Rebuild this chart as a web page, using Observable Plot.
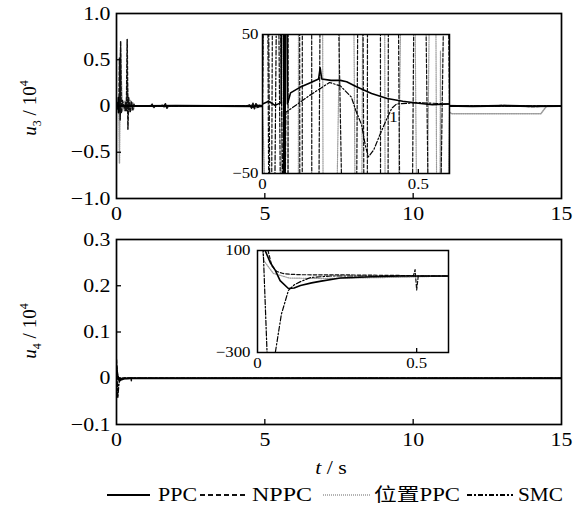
<!DOCTYPE html>
<html>
<head>
<meta charset="utf-8">
<script src="https://cdn.jsdelivr.net/npm/d3@7"></script>
<script src="https://cdn.jsdelivr.net/npm/@observablehq/plot@0.6"></script>
<style>
  body { margin: 0; background: #fff; }
  #chart { position: relative; width: 579px; height: 511px; overflow: hidden; background: #fff; }
  #chart > svg { position: absolute; }
</style>
</head>
<body>
<div id="chart"></div>
<script>
// ---- axis ticks ----
const xTicksMain = [0, 5, 10, 15];
const xTickMarksMain = [5, 10];
const u3Ticks = [-1, -0.5, 0, 0.5, 1];
const u3TickMarks = [-0.5, 0, 0.5];
const u4Ticks = [-0.1, 0, 0.1, 0.2, 0.3];
const u4TickMarks = [0, 0.1, 0.2];
const insetXTicks = [0, 0.5];
const inset3YTicks = [-50, 50];
const inset4YTicks = [-300, 100];

// ---- u3 control input (raw units) ----
const ppc3T = [0, 0.02, 0.04, 0.06, 0.066, 0.07, 0.074, 0.08, 0.09, 0.12, 0.15, 0.18, 0.185, 0.19, 0.22, 0.25, 0.27, 0.3, 0.35, 0.4, 0.45, 0.5, 0.545, 0.6, 1.0, 2.0, 4.6, 4.8, 5.0, 8.0, 10.0, 11.0, 12.0, 13.0, 14.0, 15.0];
const ppc3V = [0, 2, -1, 1, 900, -700, 300, 0, 8, 12, 15, 18, 26, 18, 17, 17, 16, 12.6, 7.5, 4, 2, 0.5, -0.5, 0, 0, 30, -30, 40, 0, 20, 0, 40, -40, 40, -40, 0];

const nppc3T = [0, 0.012, 0.025, 0.038, 0.08, 0.1, 0.125, 0.14, 0.16, 0.2, 0.29, 0.315, 0.335, 0.36, 0.385, 0.41, 0.46, 0.5, 0.55, 0.59, 0.6, 0.8, 1.15, 1.2, 1.25, 1.3, 1.6, 1.65, 1.7, 1.75, 3.5, 4.4, 4.5, 4.55, 4.6, 4.65, 4.7, 4.75, 4.85, 6.0, 9.5, 10.0, 10.5, 11.0, 12.0, 13.0, 14.0, 15.0];
const nppc3V = [0, 300, -300, 400, -600, 5200, -1500, 7000, -800, 600, -500, 400, -500, 7200, -2500, 900, -700, 500, -400, 200, 0, 0, 0, 200, -200, 0, 0, 250, -250, 0, 0, 0, 150, -250, 300, -300, 250, -150, 0, 0, 0, 60, -60, 40, -40, 50, -50, 0];

const pos3T = [0, 0.05, 0.08, 0.1, 0.13, 0.2, 0.28, 0.31, 0.37, 0.4, 0.47, 0.51, 0.55, 0.565, 0.571, 0.58, 0.6, 0.8, 1.5, 1.55, 1.6, 1.7, 4.5, 4.6, 4.7, 4.8, 5.0, 11.0, 11.3, 14.3, 14.5, 15.0];
const pos3V = [0, -400, 600, -6200, 6000, -600, 500, -500, 2500, -800, 600, -500, 400, -400, 38, -300, 0, 0, 0, 150, -150, 0, 0, 200, -200, 100, 0, 0, -850, -850, 0, 0];

const smc3T = [0, 0.01, 0.03, 0.05, 0.07, 0.075, 0.1, 0.15, 0.215, 0.25, 0.285, 0.3, 0.318, 0.33, 0.34, 0.357, 0.375, 0.4, 0.415, 0.43, 0.5, 0.6, 1.0, 4.5, 4.6, 4.7, 4.8, 5.0, 10.0, 15.0];
const smc3V = [0, 400, -300, 200, -150, -6, -2, 6, 15.5, 13, 5, -5, -15, -30, -38, -33, -23, -10, -3, 0, 1, 0, 0, 0, -150, 200, -100, 0, 0, 0];

// ---- u4 control input (raw units) ----
const ppc4T = [0, 0.01, 0.024, 0.04, 0.056, 0.071, 0.097, 0.115, 0.135, 0.17, 0.2, 0.26, 0.36, 0.45, 0.6, 15.0];
const ppc4V = [250, 180, 100, 53, 22, -18, -49, -47, -37, -27, -20, -8, -3, 0, 0, 0];

const nppc4T = [0, 0.015, 0.033, 0.045, 0.06, 0.08, 0.1, 0.135, 0.3, 0.45, 0.49, 0.495, 0.5, 0.505, 0.6, 15.0];
const nppc4V = [400, 200, 100, 40, 18, 10, 7, 5, 4, 2, 2, 25, -55, 0, 0, 0];

const smc4T = [0, 0.01, 0.018, 0.03, 0.045, 0.056, 0.075, 0.097, 0.115, 0.135, 0.167, 0.23, 0.6, 15.0];
const smc4V = [150, 130, 100, -300, -420, -300, -150, -57, -35, -22, -6, 0, 0, 0];

const pos4T = [0, 0.01, 0.02, 0.05, 0.1, 0.2, 0.3, 0.45, 0.6, 15.0];
const pos4V = [300, 150, 60, 10, -8, -10, -8, -5, 0, 0];

// small marker printed inside the u3 zoom window
const inset3Note = [{t: 0.42, v: -9.5, label: "1"}];

// ---- legend ----
const legendNames = ["PPC", "NPPC", "位置PPC", "SMC"];

// ---- line styles per controller ----
const styles = {
  pos:  {stroke: "#9a9a9a", strokeWidth: 1.2, strokeDasharray: "1,1.2"},
  smc:  {stroke: "#000", strokeWidth: 1.2, strokeDasharray: "5,2,1.5,2"},
  nppc: {stroke: "#111", strokeWidth: 1.2, strokeDasharray: "3.5,2"},
  ppc:  {stroke: "#000", strokeWidth: 1.6}
};

const rows = (t, v) => t.map((ti, i) => ({t: ti, v: v[i]}));

const u3Series = [
  {key: "pos", data: rows(pos3T, pos3V)},
  {key: "smc", data: rows(smc3T, smc3V)},
  {key: "nppc", data: rows(nppc3T, nppc3V)},
  {key: "ppc", data: rows(ppc3T, ppc3V)}
];
const u4Series = [
  {key: "pos", data: rows(pos4T, pos4V)},
  {key: "smc", data: rows(smc4T, smc4V)},
  {key: "nppc", data: rows(nppc4T, nppc4V)},
  {key: "ppc", data: rows(ppc4T, ppc4V)}
];

const serif = "'Liberation Serif', 'Times New Roman', 'Noto Sans CJK SC', serif";
const fmt1 = d => d === 0 ? "0" : d3.format(".1f")(d);
const fmtInt = d => d3.format("d")(d);

function lineMarks(series, scale, widen = 1) {
  return series.map(s => {
    const st = styles[s.key];
    return Plot.line(s.data, {x: "t", y: d => d.v / scale, ...st, strokeWidth: st.strokeWidth * widen, clip: true});
  });
}

// widen the Times-style glyphs horizontally, keeping each text's anchor point fixed
function stretchText(svg, k) {
  const texts = Array.from(svg.querySelectorAll("text"));
  for (const el of texts) {
    const tb = el.transform.baseVal;
    const m = tb.numberOfItems ? tb.consolidate().matrix : {e: 0, f: 0};
    const ax = m.e + (el.x.baseVal.numberOfItems ? el.x.baseVal.getItem(0).value : 0);
    const ay = m.f + (el.y.baseVal.numberOfItems ? el.y.baseVal.getItem(0).value : 0);
    const g = document.createElementNS("http://www.w3.org/2000/svg", "g");
    g.setAttribute("transform", `translate(${ax},${ay}) scale(${k},1) translate(${-ax},${-ay})`);
    el.parentNode.insertBefore(g, el);
    g.appendChild(el);
  }
}

function mainPanel(series, yDomain, yTicks, yTickMarks) {
  const frameW = 579 - 116 - 18, frameH = 230 - 13 - 32;
  return Plot.plot({
    width: 579, height: 230,
    marginLeft: 116, marginRight: 18, marginTop: 13, marginBottom: 32,
    style: {background: "transparent", fontFamily: serif, fontSize: "19px", color: "#000", overflow: "visible"},
    x: {domain: [0, 15]},
    y: {domain: yDomain},
    marks: [
      ...lineMarks(series, 1e4, 1.25),
      Plot.tickX(xTickMarksMain, {x: d => d, insetTop: frameH - 5, stroke: "#000", strokeWidth: 1.3}),
      Plot.tickY(yTickMarks, {y: d => d, insetRight: frameW - 5, stroke: "#000", strokeWidth: 1.3}),
      Plot.frame({stroke: "#000", strokeWidth: 1.7}),
      Plot.axisX(xTicksMain, {tickSize: 0, tickPadding: 8, label: null}),
      Plot.axisY(yTicks, {tickSize: 0, tickPadding: 6, tickFormat: fmt1, label: null})
    ]
  });
}

function insetPanel(series, o) {
  const frameH = o.height - o.mt - o.mb;
  return Plot.plot({
    width: o.width, height: o.height,
    marginLeft: o.ml, marginRight: o.mr, marginTop: o.mt, marginBottom: o.mb,
    style: {background: "transparent", fontFamily: serif, fontSize: "15px", color: "#000", overflow: "visible"},
    x: {domain: [0, 0.6]},
    y: {domain: o.yDomain},
    marks: [
      Plot.frame({fill: "#fff", stroke: null}),
      ...lineMarks(series, 1),
      ...(o.notes ? [Plot.text(o.notes, {x: "t", y: "v", text: "label", fontSize: 15, fill: "#000"})] : []),
      Plot.tickX([0.5], {x: d => d, insetTop: frameH - 4, stroke: "#000", strokeWidth: 1.3}),
      Plot.frame({stroke: "#000", strokeWidth: 1.5}),
      Plot.axisX(insetXTicks, {tickSize: 0, tickPadding: 5, tickFormat: fmt1, label: null}),
      Plot.axisY(o.yTicks, {tickSize: 0, tickPadding: o.padY, tickFormat: fmtInt, label: null})
    ]
  });
}

const chart = document.getElementById("chart");

const panelU3 = mainPanel(u3Series, [-1, 1], u3Ticks, u3TickMarks);
panelU3.style.left = "0px"; panelU3.style.top = "0px";
chart.appendChild(panelU3);
stretchText(panelU3, 1.15);

const panelU4 = mainPanel(u4Series, [-0.1, 0.3], u4Ticks, u4TickMarks);
panelU4.style.left = "0px"; panelU4.style.top = "226px";
chart.appendChild(panelU4);
stretchText(panelU4, 1.15);

const insetU3 = insetPanel(u3Series, {width: 240, height: 190, ml: 40, mr: 13, mt: 20, mb: 31, yDomain: [-50, 50], yTicks: inset3YTicks, padY: 4, notes: inset3Note});
insetU3.style.left = "222px"; insetU3.style.top = "14px";
chart.appendChild(insetU3);
stretchText(insetU3, 1.12);

const insetU4 = insetPanel(u4Series, {width: 254, height: 150, ml: 50, mr: 13, mt: 14, mb: 34, yDomain: [-300, 100], yTicks: inset4YTicks, padY: 7});
insetU4.style.left = "207px"; insetU4.style.top = "236px";
chart.appendChild(insetU4);
stretchText(insetU4, 1.12);

// ---- axis titles and legend ----
const over = d3.create("svg").attr("width", 579).attr("height", 511)
  .style("left", "0px").style("top", "0px")
  .attr("font-family", serif).attr("fill", "#000");

function yTitle(cx, cy, sub) {
  const t = over.append("text")
    .attr("transform", `translate(${cx},${cy}) rotate(-90)`)
    .attr("text-anchor", "middle").attr("dy", "0.35em").attr("font-size", 19);
  t.append("tspan").attr("font-style", "italic").text("u");
  t.append("tspan").attr("font-size", 12).attr("dy", 5).text(sub);
  t.append("tspan").attr("dy", -5).text(" / 10");
  t.append("tspan").attr("font-size", 12).attr("dy", -8).text("4");
}
yTitle(29, 108, "3");
yTitle(29, 331, "4");

const xt = over.append("text")
  .attr("transform", "translate(331,474) scale(1.15,1)")
  .attr("text-anchor", "middle").attr("font-size", 19);
xt.append("tspan").attr("font-style", "italic").text("t");
xt.append("tspan").text(" / s");

const legendItems = [
  {key: "ppc", x1: 107, x2: 150, tx: 158, w: 39},
  {key: "nppc", x1: 200, x2: 248, tx: 252, w: 60},
  {key: "pos", x1: 323, x2: 370, tx: 374, w: 86},
  {key: "smc", x1: 467, x2: 513, tx: 518, w: 45}
];
legendItems.forEach((it, i) => {
  const s = styles[it.key];
  over.append("line")
    .attr("x1", it.x1).attr("x2", it.x2).attr("y1", 495).attr("y2", 495)
    .attr("stroke", s.stroke).attr("stroke-width", it.key === "pos" ? 1.4 : 1.8)
    .attr("stroke-dasharray", it.key === "nppc" ? "5,3" : it.key === "smc" ? "5,2,2,2" : it.key === "pos" ? "1,1" : null);
  over.append("text")
    .attr("x", it.tx).attr("y", 501)
    .attr("font-size", 18)
    .attr("textLength", it.w).attr("lengthAdjust", "spacingAndGlyphs")
    .text(legendNames[i]);
});

chart.appendChild(over.node());
</script>
</body>
</html>
